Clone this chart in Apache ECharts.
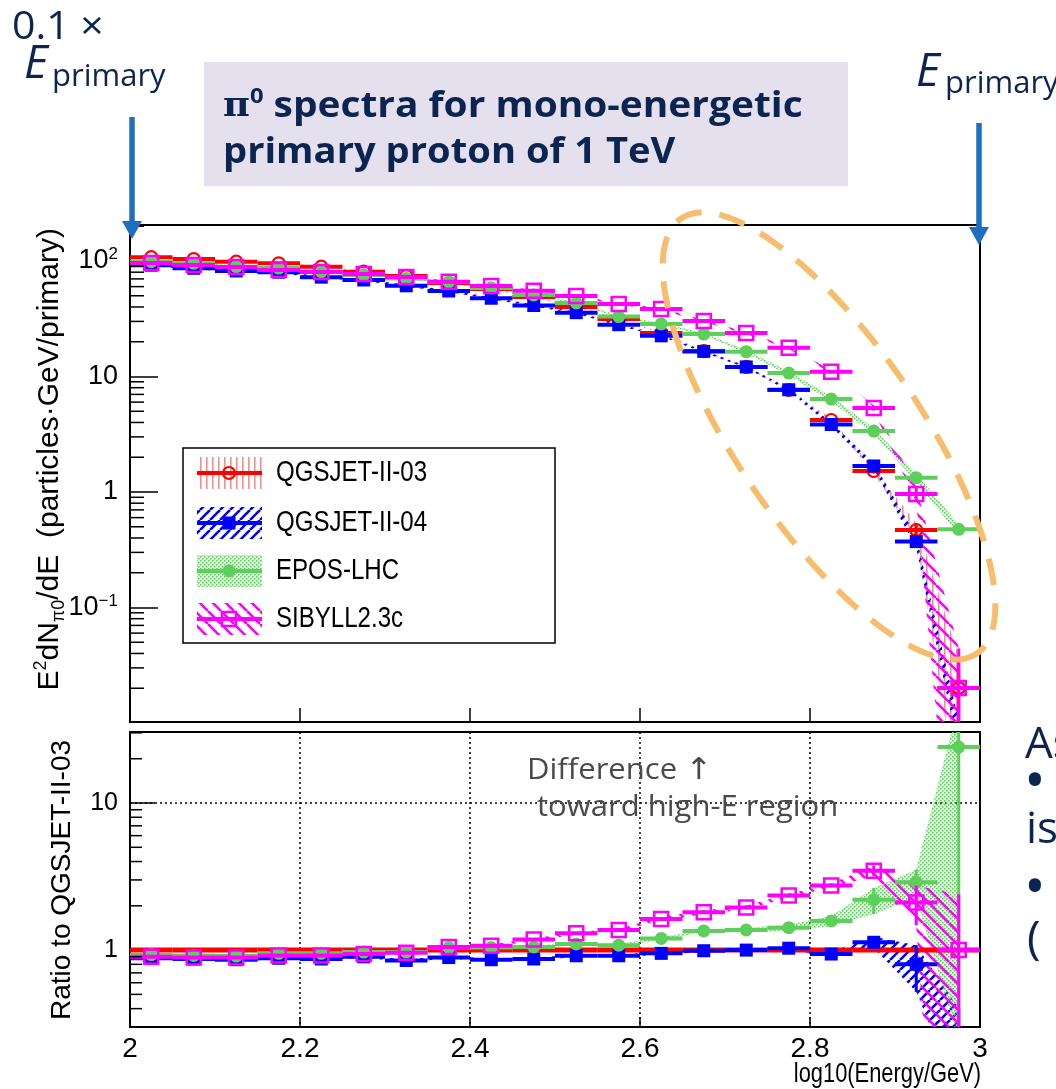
<!DOCTYPE html>
<html><head><meta charset="utf-8">
<script src="https://cdn.jsdelivr.net/npm/echarts@6/dist/echarts.min.js"></script>
<style>html,body{margin:0;padding:0;background:#fff;} #c{width:1056px;height:1089px;}</style>
</head><body><div id="c"></div>
<script>
// ---------------- data ----------------
const binCenters = [2.025,2.075,2.125,2.175,2.225,2.275,2.325,2.375,2.425,2.475,2.525,2.575,2.625,2.675,2.725,2.775,2.825,2.875,2.925,2.975];
const binHalf = 0.025;
const modelNames = ['QGSJET-II-03','QGSJET-II-04','EPOS-LHC','SIBYLL2.3c'];

// E^2 dN/dE spectra (top panel)
const qgs03  = [108,104,98.6,95.5,89.3,80.8,74.2,64.5,57.3,48.8,40.0,31.5,23.8,16.6,12.1,7.64,4.20,1.52,0.469,0.0201];
const qgs04  = [92,86.5,82,80,72.5,68.5,61,55,47.6,41.2,35.7,28.1,22.5,16.5,12.1,7.68,3.84,1.68,0.372,0.008];
const eposLhc= [98.6,95.5,89.3,86.9,80.8,75.6,70.5,65.8,58.4,50.8,43.3,33.0,28.5,23.3,16.4,10.7,6.38,3.37,1.33,0.475];
const sibyll = [96.1,92.3,88.7,83.5,80.3,77.2,72.7,66.2,60.8,55.4,49.8,42.5,38.4,30.3,23.8,17.7,11.0,5.33,0.962,0.0201];
// relative uncertainties (top panel)
const err03   = [0.015,0.015,0.015,0.015,0.015,0.015,0.015,0.015,0.015,0.015,0.015,0.015,0.015,0.015,0.015,0.015,0.03,0.05,0.15,0.9];
const err04   = [0.02,0.02,0.02,0.02,0.02,0.02,0.02,0.02,0.02,0.02,0.02,0.02,0.02,0.02,0.02,0.03,0.04,0.06,0.12,0.3];
const errEpos = [0.02,0.02,0.02,0.02,0.02,0.02,0.02,0.02,0.02,0.02,0.02,0.02,0.02,0.02,0.03,0.04,0.05,0.06,0.08,0.1];
const errSib  = [0.02,0.02,0.02,0.02,0.02,0.02,0.02,0.02,0.02,0.02,0.02,0.02,0.02,0.02,0.02,0.02,0.03,0.05,0.15,1.2];

// Ratio to QGSJET-II-03 (bottom panel)
const ratio03   = [1,1,1,1,1,1,1,1,1,1,1,1,1,1,1,1,1,1,1,1];
const ratio04   = [0.88,0.87,0.86,0.88,0.87,0.90,0.85,0.89,0.86,0.87,0.915,0.915,0.95,0.99,1.0,1.03,0.94,1.13,0.80,0.25];
const ratioEpos = [0.93,0.92,0.91,0.95,0.95,0.97,0.97,1.04,1.04,1.05,1.1,1.08,1.2,1.35,1.37,1.42,1.58,2.2,2.89,24];
const ratioSib  = [0.9,0.89,0.89,0.92,0.92,0.94,0.96,1.05,1.07,1.18,1.3,1.37,1.63,1.81,1.95,2.35,2.75,3.47,2.11,1.0];
const rErr03   = [0,0,0,0,0,0,0,0,0,0,0,0,0,0,0,0,0,0,0,0];
const rErr04   = [0.02,0.02,0.02,0.02,0.02,0.02,0.02,0.02,0.02,0.02,0.02,0.02,0.02,0.02,0.02,0.02,0.04,0.09,0.35,0.6];
const rErrEpos = [0.02,0.02,0.02,0.02,0.02,0.02,0.02,0.02,0.02,0.02,0.02,0.02,0.02,0.02,0.03,0.05,0.08,0.2,0.22,0.99];
const rErrSib  = [0.02,0.02,0.02,0.02,0.02,0.02,0.02,0.02,0.02,0.02,0.02,0.02,0.03,0.03,0.03,0.03,0.03,0.08,0.3,1.4];

// axis tick labels
const xTickLabels = ['2','2.2','2.4','2.6','2.8','3'];
const topMajorLabels = {'-1':['10','\u22121'], '0':['1',''], '1':['10',''], '2':['10','2']};
const ratioMajorLabels = {'0':'1', '1':'10'};
const topMinorTicks = [0.02,0.03,0.04,0.05,0.06,0.07,0.08,0.09,0.2,0.3,0.4,0.5,0.6,0.7,0.8,0.9,2,3,4,5,6,7,8,9,20,30,40,50,60,70,80,90,200];
const ratioMinorTicks = [0.4,0.5,0.6,0.7,0.8,0.9,2,3,4,5,6,7,8,9,20,30];

// ---------------- styling ----------------
const NARROW = "'Liberation Sans Narrow','Liberation Sans',Arial,sans-serif";
const SANS = "'Liberation Sans',Arial,sans-serif";
const SLIDE = "'Open Sans','Noto Sans',sans-serif";
const NAVY = '#0c2550';
const RED = '#ff0000', BLUE = '#0000ff', GREEN = '#5fcf5c', MAG = '#ff00ff';

function pat(size, drawFn){ const c=document.createElement('canvas'); c.width=size; c.height=size; const g=c.getContext('2d'); drawFn(g,size); return {image:c, repeat:'repeat'}; }
const patRed = pat(6,(g,s)=>{g.fillStyle='rgba(255,40,40,0.55)'; g.fillRect(2,0,1.6,s);});
const patBlue = pat(10,(g,s)=>{g.strokeStyle=BLUE; g.lineWidth=2.6; g.beginPath(); for(const k of [-s,0,s]){g.moveTo(k,s); g.lineTo(k+s,0);} g.stroke();});
const patMag = pat(13,(g,s)=>{g.strokeStyle=MAG; g.lineWidth=2.6; g.beginPath(); for(const k of [-s,0,s]){g.moveTo(k,0); g.lineTo(k+s,s);} g.stroke();});
const patGreen = pat(4,(g,s)=>{g.fillStyle='rgba(95,207,92,0.22)'; g.fillRect(0,0,s,s); g.fillStyle=GREEN; g.fillRect(0,0,1.5,1.5); g.fillRect(2,2,1.5,1.5);});

function markerShape(kind, cx, cy, color){
  switch(kind){
    case 'openCircle': return {type:'circle', shape:{cx:cx,cy:cy,r:6}, style:{fill:'none', stroke:color, lineWidth:2.2}};
    case 'square': return {type:'rect', shape:{x:cx-6.5,y:cy-6.5,width:13,height:13}, style:{fill:color}};
    case 'circle': return {type:'circle', shape:{cx:cx,cy:cy,r:6.5}, style:{fill:color}};
    case 'openSquare': return {type:'rect', shape:{x:cx-7,y:cy-7,width:14,height:14}, style:{fill:'none', stroke:color, lineWidth:2.5}};
  }
  return null;
}

function bandSeries(xi, yi, vals, errs, fill, z){
  return {type:'custom', xAxisIndex:xi, yAxisIndex:yi, clip:true, z:z, silent:true,
    data:[[binCenters[0], vals[0]]],
    renderItem:(params, api)=>{
      const up=[], dn=[];
      vals.forEach((v,i)=>{ if(v==null) return;
        up.push(api.coord([binCenters[i], v*(1+errs[i])]));
        dn.push(api.coord([binCenters[i], Math.max(v*(1-errs[i]), 1e-4)])); });
      return {type:'polygon', shape:{points: up.concat(dn.reverse())}, style:{fill: fill, stroke: null}};
    }};
}
function pointSeries(xi, yi, vals, errs, color, marker, z, barW){
  const data=[]; vals.forEach((v,i)=>{ if(v!=null) data.push([binCenters[i], v, errs[i]]); });
  return {type:'custom', xAxisIndex:xi, yAxisIndex:yi, clip:true, z:z, silent:true, data:data,
    renderItem:(params, api)=>{
      const x=api.value(0), v=api.value(1), e=api.value(2);
      const c=api.coord([x,v]), l=api.coord([x-binHalf,v]), r=api.coord([x+binHalf,v]);
      const t=api.coord([x, v*(1+e)]), b=api.coord([x, Math.max(v*(1-e),1e-4)]);
      const ch=[{type:'line', shape:{x1:l[0],y1:l[1],x2:r[0],y2:r[1]}, style:{stroke:color,lineWidth:barW}}];
      if (e>0) ch.push({type:'line', shape:{x1:c[0],y1:t[1],x2:c[0],y2:b[1]}, style:{stroke:color,lineWidth:3}});
      const m=markerShape(marker,c[0],c[1],color); if(m) ch.push(m);
      return {type:'group', children:ch};
    }};
}
function minorTickSeries(xi, yi, vals, len){
  return {type:'custom', xAxisIndex:xi, yAxisIndex:yi, clip:true, z:5, silent:true,
    data: vals.map(v=>[2, v]),
    renderItem:(params, api)=>{ const c=api.coord([2, api.value(1)]);
      return {type:'line', shape:{x1:c[0], y1:c[1], x2:c[0]+len, y2:c[1]}, style:{stroke:'#000', lineWidth:1.5}}; }};
}

const series = [
  minorTickSeries(0,0,topMinorTicks,14),
  minorTickSeries(1,1,ratioMinorTicks,12),
  // top panel
  bandSeries(0,0,qgs03,err03,patRed,2),
  pointSeries(0,0,qgs03,err03,RED,'openCircle',3,4),
  bandSeries(0,0,qgs04,err04,patBlue,2),
  pointSeries(0,0,qgs04,err04,BLUE,'square',3,4),
  bandSeries(0,0,eposLhc,errEpos,patGreen,2),
  pointSeries(0,0,eposLhc,errEpos,GREEN,'circle',3,4),
  bandSeries(0,0,sibyll,errSib,patMag,2),
  pointSeries(0,0,sibyll,errSib,MAG,'openSquare',3,4),
  // ratio panel
  pointSeries(1,1,ratio03,rErr03,RED,null,3,5),
  bandSeries(1,1,ratio04,rErr04,patBlue,2),
  pointSeries(1,1,ratio04,rErr04,BLUE,'square',3,4),
  bandSeries(1,1,ratioEpos,rErrEpos,patGreen,2),
  pointSeries(1,1,ratioEpos,rErrEpos,GREEN,'circle',3,4),
  bandSeries(1,1,ratioSib,rErrSib,patMag,2),
  pointSeries(1,1,ratioSib,rErrSib,MAG,'openSquare',3,4)
];

// ---------------- annotations ----------------
const legendY = [473, 523, 571, 619];
const legendStyle = [
  {color:RED, fill:patRed, marker:'openCircle'},
  {color:BLUE, fill:patBlue, marker:'square'},
  {color:GREEN, fill:patGreen, marker:'circle'},
  {color:MAG, fill:patMag, marker:'openSquare'}
];
const legendChildren = [{type:'rect', shape:{x:183,y:448,width:372,height:195}, style:{fill:'#fff', stroke:'#000', lineWidth:1.5}}];
modelNames.forEach((nm,i)=>{
  const y=legendY[i], s=legendStyle[i];
  legendChildren.push({type:'rect', shape:{x:197,y:y-16,width:65,height:32}, style:{fill:s.fill}});
  legendChildren.push({type:'line', shape:{x1:197,y1:y,x2:262,y2:y}, style:{stroke:s.color,lineWidth:4}});
  legendChildren.push(markerShape(s.marker,229,y,s.color));
  legendChildren.push({type:'text', x:276, y:y, scaleX:0.83, style:{text:nm, fontSize:29, fontFamily:SANS, fill:'#000', align:'left', verticalAlign:'middle', textAlign:'left', textVerticalAlign:'middle'}});
});

const ellPts=[]; (function(){ const th=55.8*Math.PI/180; for(let t=0;t<360;t+=2){ const a=t*Math.PI/180; const ex=263*Math.cos(a), ey=92*Math.sin(a); ellPts.push([829+ex*Math.cos(th)-ey*Math.sin(th), 436+ex*Math.sin(th)+ey*Math.cos(th)]); } })();

function txt(x,y,text,opt){ return Object.assign({type:'text', x:x, y:y, style:Object.assign({text:text, align:'left', verticalAlign:'middle', textAlign:'left', textVerticalAlign:'middle'}, opt.style)}, opt.el||{}); }

const graphics = [
  {type:'group', z:20, children:legendChildren},
  // ellipse
  {type:'polygon', z:30, shape:{points:ellPts}, style:{fill:'none', stroke:'#f8bd6c', lineWidth:6, lineDash:[27,18]}},
  // title box
  {type:'rect', z:20, shape:{x:204,y:62,width:644,height:124}, style:{fill:'#e5e0ed'}},
  txt(223,107,'{pi|\u03c0}{sup|0}{b| spectra for mono-energetic}',{el:{z:21, scaleX:1.08}, style:{rich:{
     pi:{fontFamily:"'DejaVu Serif',serif", fontWeight:'bold', fontSize:34, fill:NAVY, color:NAVY},
     sup:{fontFamily:SLIDE, fontWeight:'bold', fontSize:22, fill:NAVY, color:NAVY, verticalAlign:'top'},
     b:{fontFamily:SLIDE, fontWeight:'bold', fontSize:36, fill:NAVY, color:NAVY, lineHeight:42}}}}),
  txt(223,153,'primary proton of 1 TeV',{el:{z:21, scaleX:1.06}, style:{fontFamily:SLIDE, fontWeight:'bold', fontSize:36, fill:NAVY}}),
  // E_primary labels
  txt(12,28,'0.1 \u00d7',{el:{z:21, scaleX:1.08}, style:{fontFamily:SLIDE, fontSize:38, fill:NAVY}}),
  txt(24,65,'E',{el:{z:21}, style:{fontFamily:SLIDE, fontStyle:'italic', fontSize:46, fill:NAVY}}),
  txt(52,77,'primary',{el:{z:21}, style:{fontFamily:SLIDE, fontSize:31, fill:NAVY}}),
  txt(916,73,'E',{el:{z:21}, style:{fontFamily:SLIDE, fontStyle:'italic', fontSize:46, fill:NAVY}}),
  txt(945,84,'primary',{el:{z:21}, style:{fontFamily:SLIDE, fontSize:31, fill:NAVY}}),
  // arrows
  {type:'line', z:40, shape:{x1:132,y1:117,x2:132,y2:224}, style:{stroke:'#1f6fc0', lineWidth:5.5}},
  {type:'polygon', z:40, shape:{points:[[122,221],[142,221],[132,239]]}, style:{fill:'#1f6fc0'}},
  {type:'line', z:40, shape:{x1:979,y1:123,x2:979,y2:230}, style:{stroke:'#1f6fc0', lineWidth:5.5}},
  {type:'polygon', z:40, shape:{points:[[969,227],[989,227],[979,245]]}, style:{fill:'#1f6fc0'}},
  // Difference text
  txt(527,771,'{t|Difference }{a|\u2191}',{el:{z:25, scaleX:1.07}, style:{rich:{
     t:{fontFamily:SLIDE, fontSize:29, fill:'#4a4a4a', color:'#4a4a4a'},
     a:{fontFamily:"'DejaVu Sans',sans-serif", fontSize:30, fill:'#4a4a4a', color:'#4a4a4a'}}}}),
  txt(537,808,'toward high-E region',{el:{z:25, scaleX:1.07}, style:{fontFamily:SLIDE, fontSize:29, fill:'#4a4a4a'}}),
  // cut-off slide text on right
  txt(1025,745,'As',{el:{z:21}, style:{fontFamily:SLIDE, fontSize:44, fill:NAVY}}),
  txt(1024,784,'\u2022',{el:{z:21}, style:{fontFamily:SLIDE, fontSize:58, fill:NAVY}}),
  txt(1026,830,'is',{el:{z:21}, style:{fontFamily:SLIDE, fontSize:44, fill:NAVY}}),
  txt(1024,890,'\u2022',{el:{z:21}, style:{fontFamily:SLIDE, fontSize:58, fill:NAVY}}),
  txt(1027,941,'(',{el:{z:21}, style:{fontFamily:SLIDE, fontSize:46, fill:NAVY}}),
  // axis titles
  {type:'text', z:21, x:50, y:228, rotation:Math.PI/2, style:{
     text:'{n|E}{sup|2}{n|dN}{sub|\u03c00}{n|/dE  (particles\u00b7GeV/primary)}',
     align:'right', verticalAlign:'middle', textAlign:'right', textVerticalAlign:'middle',
     rich:{n:{fontFamily:SANS, fontSize:30, lineHeight:36, fill:'#000', color:'#000'},
           sup:{fontFamily:SANS, fontSize:18, fill:'#000', color:'#000', verticalAlign:'top'},
           sub:{fontFamily:SANS, fontSize:18, fill:'#000', color:'#000', verticalAlign:'bottom'}}}},
  {type:'text', z:21, x:62, y:880, rotation:Math.PI/2, style:{text:'Ratio to QGSJET-II-03', fontFamily:SANS, fontSize:28, fill:'#000',
     align:'center', verticalAlign:'middle', textAlign:'center', textVerticalAlign:'middle'}},
  {type:'text', z:21, x:981, y:1075, scaleX:0.81, style:{text:'log10(Energy/GeV)', fontFamily:SANS, fontSize:27, fill:'#000',
     align:'right', verticalAlign:'middle', textAlign:'right', textVerticalAlign:'middle'}}
];

// ---------------- chart ----------------
const chart = echarts.init(document.getElementById('c'), null, {renderer:'canvas'});
const axisLineStyle = {lineStyle:{color:'#000', width:2}};
chart.setOption({
  backgroundColor:'#fff',
  animation:false,
  grid:[
    {left:130, top:225, width:850, height:497, show:true, borderColor:'#000', borderWidth:2},
    {left:130, top:732, width:850, height:295, show:true, borderColor:'#000', borderWidth:2}
  ],
  xAxis:[
    {gridIndex:0, type:'value', min:2, max:3, interval:0.2, axisLine:axisLineStyle,
     axisTick:{inside:true, length:14, lineStyle:{color:'#000', width:1.5}}, axisLabel:{show:false}, splitLine:{show:false}},
    {gridIndex:1, type:'value', min:2, max:3, interval:0.2, axisLine:axisLineStyle,
     axisTick:{inside:true, length:10, lineStyle:{color:'#000', width:1.5}},
     axisLabel:{margin:8, fontSize:28, fontFamily:NARROW, color:'#000',
       formatter:v=>{ const i=Math.round((v-2)/0.2); return xTickLabels[i]||''; }},
     splitLine:{show:true, lineStyle:{color:'#000', width:1.5, type:[2,3]}}}
  ],
  yAxis:[
    {gridIndex:0, type:'log', logBase:10, min:0.0102, max:205, axisLine:axisLineStyle,
     axisTick:{inside:true, length:28, lineStyle:{color:'#000', width:1.5}},
     axisLabel:{margin:12, formatter:v=>{ const lg=Math.log10(v), e=Math.round(lg); if(Math.abs(lg-e)>0.01) return ''; const L=topMajorLabels[String(e)]; if(!L) return ''; return L[1]?('{b|'+L[0]+'}{s|'+L[1]+'}'):('{b|'+L[0]+'}'); },
       rich:{b:{fontSize:27, fontFamily:NARROW, color:'#000', lineHeight:30}, s:{fontSize:17, fontFamily:NARROW, color:'#000', verticalAlign:'top', lineHeight:17}}},
     splitLine:{show:false}},
    {gridIndex:1, type:'log', logBase:10, min:0.3, max:30.4, axisLine:axisLineStyle,
     axisTick:{inside:true, length:25, lineStyle:{color:'#000', width:1.5}},
     axisLabel:{margin:12, fontSize:25, fontFamily:NARROW, color:'#000',
       formatter:v=>{ const lg=Math.log10(v), e=Math.round(lg); if(Math.abs(lg-e)>0.01) return ''; return ratioMajorLabels[String(e)]||''; }},
     splitLine:{show:true, lineStyle:{color:'#000', width:1.5, type:[2,3]}}}
  ],
  series: series,
  graphic: graphics
});
</script>
</body></html>
